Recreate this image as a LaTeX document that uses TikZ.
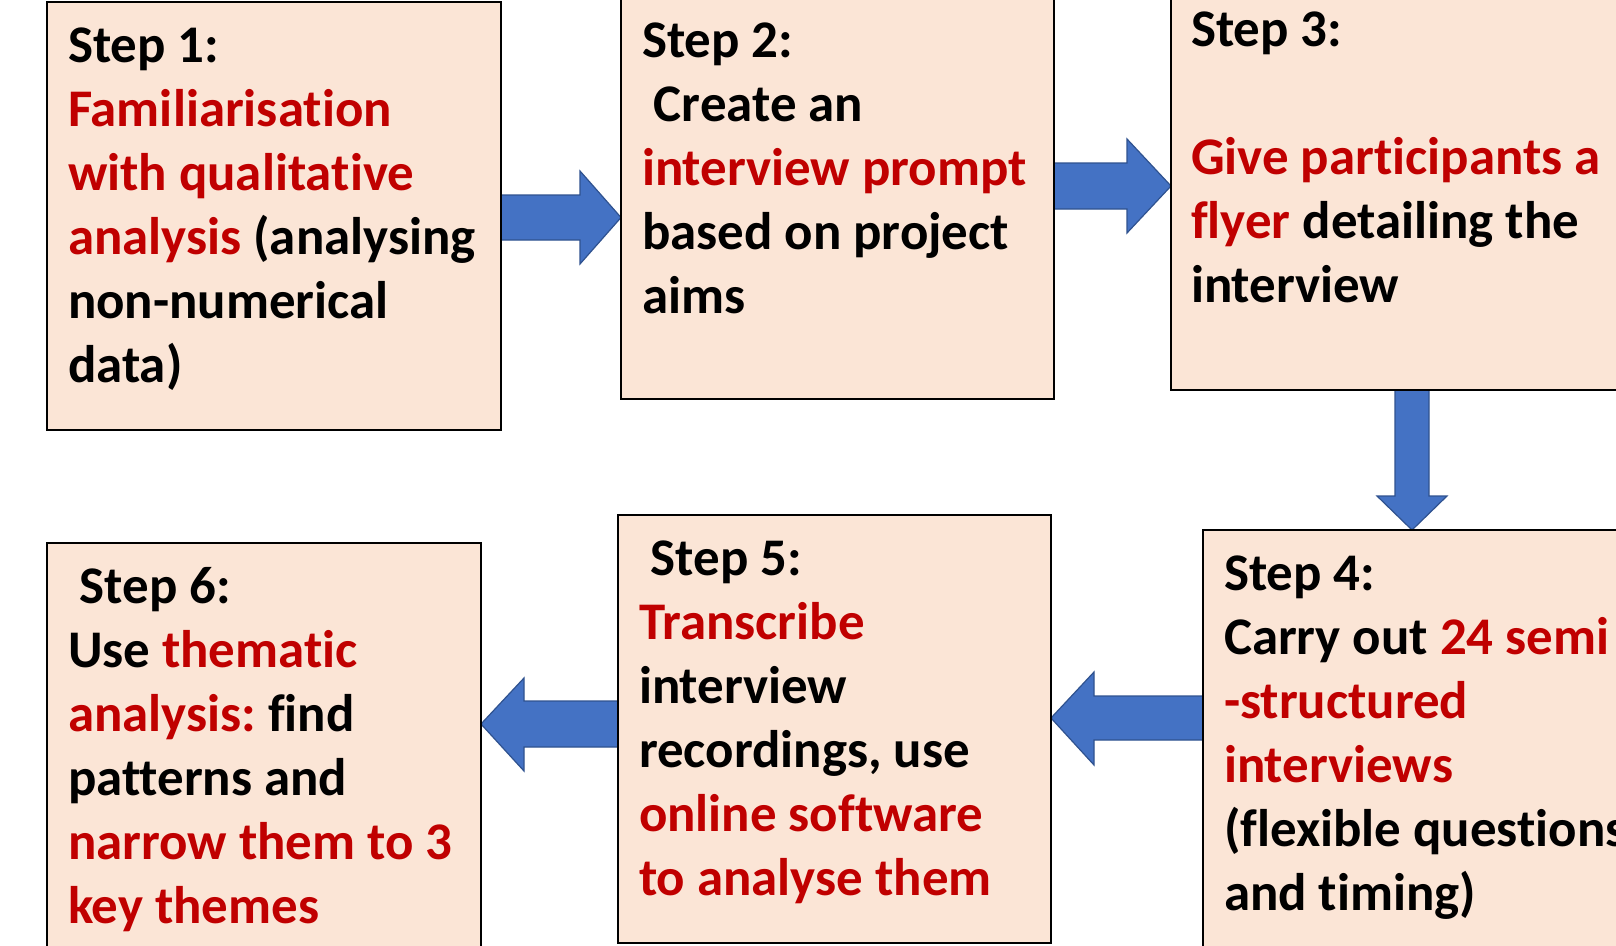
\documentclass[tikz,border=0pt]{standalone}
\usepackage{fontspec}
\setmainfont{Carlito}[RawFeature=-liga]
\usetikzlibrary{calc,backgrounds}
\definecolor{boxfill}{HTML}{FBE5D6}
\definecolor{hred}{HTML}{C00000}
\definecolor{arrfill}{HTML}{4472C4}
\definecolor{arrline}{HTML}{2F528F}
\newcommand{\hl}[1]{\textcolor{hred}{#1}}
\newcommand{\leadsp}{\hspace*{0.226em}}
\frenchspacing
\begin{document}
\begin{tikzpicture}[x=1pt,y=1pt,
  stepbox/.style={draw=black, line width=2pt, fill=boxfill, inner sep=0pt, outer sep=0pt, anchor=north west},
  steptext/.style={anchor=north west, inner sep=0pt, outer sep=0pt, align=left, font=\fontsize{52.9}{64}\selectfont\bfseries},
  blockarrow/.style={fill=arrfill, draw=arrline, line width=1.2pt, line join=miter}]
\useasboundingbox (0,0) rectangle (1616,-945);
% boxes
\node[stepbox, minimum width=454pt, minimum height=428pt] (b1) at (47,-2) {};
\node[stepbox, minimum width=433pt, minimum height=401pt] (b2) at (621,2) {};
\node[stepbox, minimum width=480pt, minimum height=400pt] (b3) at (1171,10) {};
\node[stepbox, minimum width=450pt, minimum height=430pt] (b4) at (1203,-530) {};
\node[stepbox, minimum width=433pt, minimum height=428pt] (b5) at (618,-515) {};
\node[stepbox, minimum width=434pt, minimum height=420pt] (b6) at (47,-543) {};
% texts
\node[steptext] (t1) at (68,-17.2) {\strut Step 1:\\ \hl{Familiarisation}\\ \hl{with qualitative}\\ \hl{analysis} (analysing\\ non-numerical\\ data)};
\node[steptext] (t2) at (642,-12.2) {\strut Step 2:\\ \leadsp Create an\\ \hl{interview prompt}\\ based on project\\ aims};
\node[steptext] (t3) at (1191,-1.2) {\strut Step 3:\\ \strut\\ \hl{Give participants a}\\ \hl{flyer} detailing the\\ interview};
\node[steptext] (t4) at (1224,-545.2) {\strut Step 4:\\ Carry out \hl{24 semi}\\ \hl{-structured}\\ \hl{interviews}\\ (flexible questions\\ and timing)};
\node[steptext] (t5) at (639,-530.2) {\strut\leadsp Step 5:\\ \hl{Transcribe}\\ interview\\ recordings, use\\ \hl{online software}\\ \hl{to analyse them}};
\node[steptext] (t6) at (68,-558.2) {\strut\leadsp Step 6:\\ Use \hl{thematic}\\ \hl{analysis:} find\\ patterns and\\ \hl{narrow them to 3}\\ \hl{key themes}};
% block arrows
\begin{scope}[on background layer]
\draw[blockarrow] let \p1=(b1.east), \p2=(b2.west) in
  (\x1,-195) -- (\x2-41,-195) -- (\x2-41,-171) -- (\x2,-217.5) -- (\x2-41,-264) -- (\x2-41,-240) -- (\x1,-240) -- cycle;
\draw[blockarrow] let \p1=(b2.east), \p2=(b3.west) in
  (\x1,-163) -- (\x2-44,-163) -- (\x2-44,-139) -- (\x2,-186) -- (\x2-44,-233) -- (\x2-44,-209) -- (\x1,-209) -- cycle;
\draw[blockarrow] let \p1=(b3.south), \p2=(b4.north) in
  (1395,\y1) -- (1395,\y2+34) -- (1377,\y2+34) -- (1412,\y2) -- (1447,\y2+34) -- (1429,\y2+34) -- (1429,\y1) -- cycle;
\draw[blockarrow] let \p1=(b4.west), \p2=(b5.east) in
  (\x1,-696) -- (\x2+43,-696) -- (\x2+43,-672) -- (\x2,-718) -- (\x2+43,-765) -- (\x2+43,-740) -- (\x1,-740) -- cycle;
\draw[blockarrow] let \p1=(b5.west), \p2=(b6.east) in
  (\x1,-701) -- (\x2+43,-701) -- (\x2+43,-678) -- (\x2,-724) -- (\x2+43,-771) -- (\x2+43,-747) -- (\x1,-747) -- cycle;
\end{scope}
\end{tikzpicture}
\end{document}
